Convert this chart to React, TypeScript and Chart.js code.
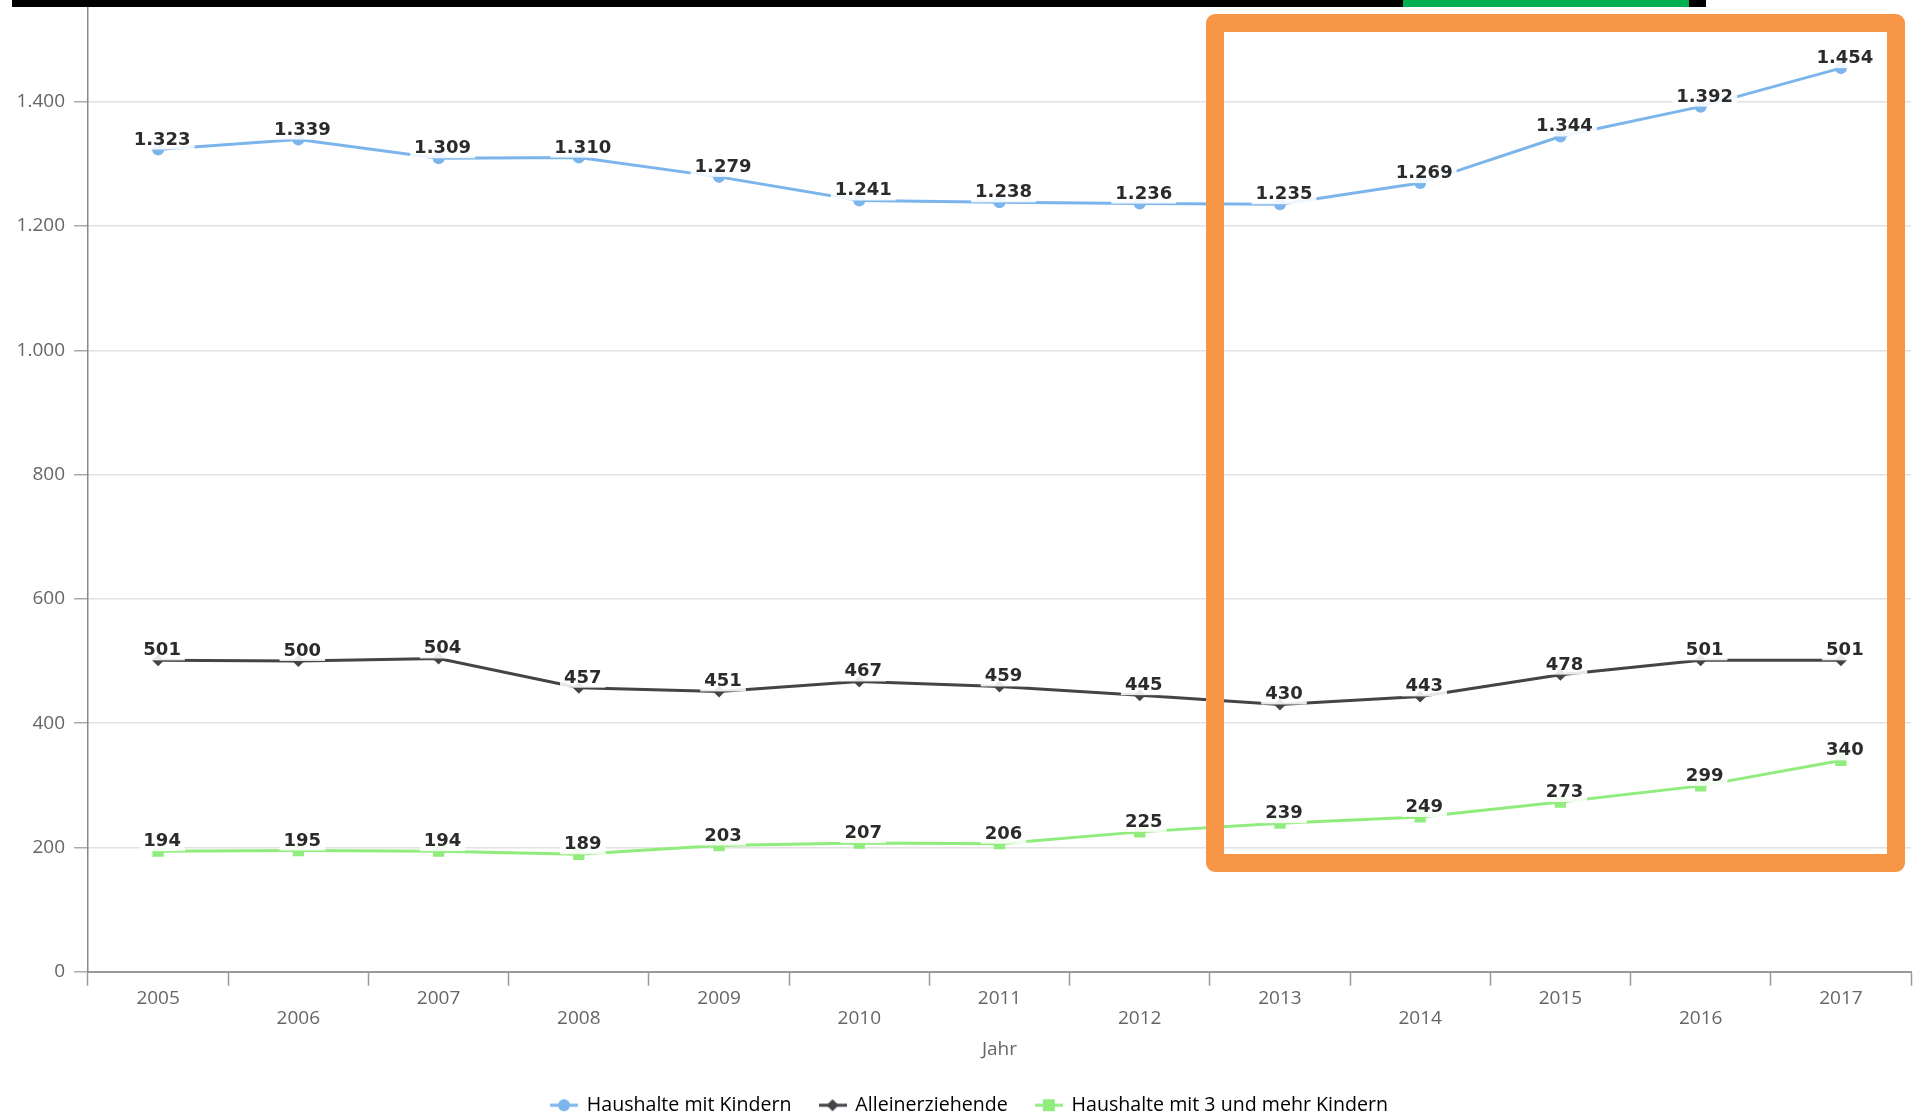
import React, { useEffect, useRef } from 'react';
import { Chart, registerables } from 'chart.js';

Chart.register(...registerables);

const years = ['2005', '2006', '2007', '2008', '2009', '2010', '2011', '2012', '2013', '2014', '2015', '2016', '2017'];
const haushalteMitKindern = [1323, 1339, 1309, 1310, 1279, 1241, 1238, 1236, 1235, 1269, 1344, 1392, 1454];
const alleinerziehende = [501, 500, 504, 457, 451, 467, 459, 445, 430, 443, 478, 501, 501];
const haushalteMit3Kindern = [194, 195, 194, 189, 203, 207, 206, 225, 239, 249, 273, 299, 340];
const seriesNames = ['Haushalte mit Kindern', 'Alleinerziehende', 'Haushalte mit 3 und mehr Kindern'];
const seriesColors = ['#7cb5ec', '#434348', '#90ed7d'];
const axisTitle = 'Jahr';

const fmt = (v: number) => String(Math.round(v)).replace(/\B(?=(\d{3})+(?!\d))/g, '.');

function makeIcon(color: string, shape: string) {
  const c = document.createElement('canvas');
  c.width = 28;
  c.height = 14;
  const g = c.getContext('2d')!;
  g.strokeStyle = color;
  g.lineWidth = 3;
  g.beginPath();
  g.moveTo(0, 7);
  g.lineTo(28, 7);
  g.stroke();
  g.fillStyle = color;
  g.beginPath();
  if (shape === 'circle') g.arc(14, 7, 6, 0, Math.PI * 2);
  else if (shape === 'diamond') {
    g.moveTo(14, 1);
    g.lineTo(20, 7);
    g.lineTo(14, 13);
    g.lineTo(8, 7);
    g.closePath();
  } else g.rect(8, 1, 12, 12);
  g.fill();
  return c;
}

const dataLabelPlugin = {
  id: 'dataLabels',
  afterDatasetsDraw(chart: any) {
    const ctx = chart.ctx;
    ctx.save();
    ctx.font = 'bold 18px "DejaVu Sans"';
    ctx.textAlign = 'center';
    ctx.textBaseline = 'alphabetic';
    chart.data.datasets.forEach((ds: any, i: number) => {
      const meta = chart.getDatasetMeta(i);
      meta.data.forEach((pt: any, j: number) => {
        const txt = fmt(ds.data[j]);
        const x = pt.x + 4;
        const y = pt.y;
        const w = ctx.measureText(txt).width;
        ctx.fillStyle = 'rgba(255,255,255,0.88)';
        ctx.fillRect(x - w / 2 - 4, y - 23, w + 8, 23);
        ctx.fillStyle = '#2b2b2b';
        ctx.fillText(txt, x, y - 5);
      });
    });
    ctx.restore();
  },
};

const legendShiftPlugin = {
  id: 'legendShift',
  afterLayout(chart: any) {
    if (chart.legend) {
      chart.legend.left += 10;
      chart.legend.right += 10;
    }
  },
};

export default function App() {
  const ref = useRef<HTMLCanvasElement | null>(null);

  useEffect(() => {
    if (!ref.current) return;
    const icons = [
      makeIcon(seriesColors[0], 'circle'),
      makeIcon(seriesColors[1], 'diamond'),
      makeIcon(seriesColors[2], 'square'),
    ];
    const tickFont = { family: '"Open Sans", sans-serif', size: 19 };
    const chart = new Chart(ref.current, {
      type: 'line',
      data: {
        labels: years,
        datasets: [
          {
            label: seriesNames[0],
            data: haushalteMitKindern,
            borderColor: seriesColors[0],
            backgroundColor: seriesColors[0],
            borderWidth: 3,
            pointStyle: 'circle',
            pointRadius: 6,
            pointBorderWidth: 0,
            tension: 0,
          },
          {
            label: seriesNames[1],
            data: alleinerziehende,
            borderColor: seriesColors[1],
            backgroundColor: seriesColors[1],
            borderWidth: 3,
            pointStyle: 'rectRot',
            pointRadius: 6,
            pointBorderWidth: 0,
            tension: 0,
          },
          {
            label: seriesNames[2],
            data: haushalteMit3Kindern,
            borderColor: seriesColors[2],
            backgroundColor: seriesColors[2],
            borderWidth: 3,
            pointStyle: 'rect',
            pointRadius: 8,
            pointBorderWidth: 0,
            tension: 0,
          },
        ],
      },
      options: {
        responsive: false,
        animation: false,
        layout: { padding: { left: 8, right: 10, top: 1.2, bottom: 0 } },
        plugins: {
          tooltip: { enabled: false },
          legend: {
            position: 'bottom',
            labels: {
              usePointStyle: true,
              pointStyleWidth: 26,
              padding: 28,
              color: '#333333',
              font: { family: '"Open Sans", sans-serif', size: 19.6 },
              generateLabels: (ch: any) =>
                ch.data.datasets.map((ds: any, i: number) => ({
                  text: ds.label,
                  pointStyle: icons[i],
                  fillStyle: ds.borderColor,
                  strokeStyle: ds.borderColor,
                  lineWidth: 0,
                  hidden: false,
                  datasetIndex: i,
                })),
            },
          },
        },
        scales: {
          x: {
            offset: true,
            grid: { offset: true, drawOnChartArea: false, tickLength: 14, tickColor: '#999999', tickWidth: 1.5 },
            border: { color: '#999999', width: 2 },
            ticks: {
              autoSkip: false,
              maxRotation: 0,
              minRotation: 0,
              padding: 2,
              color: '#666666',
              font: { ...tickFont, lineHeight: 1.1 },
              callback: (_v: any, i: number) => (i % 2 ? ['', years[i]] : years[i]),
            },
            title: {
              display: true,
              text: axisTitle,
              color: '#666666',
              font: { ...tickFont, lineHeight: 1.1 },
              padding: { top: 8, bottom: 7 },
            },
          },
          y: {
            min: 0,
            max: 1600,
            ticks: {
              stepSize: 200,
              padding: 9,
              color: '#666666',
              font: tickFont,
              callback: (v: any) => fmt(Number(v)),
            },
            grid: { color: '#e2e2e2', lineWidth: 1.5, tickLength: 14, tickColor: '#aaaaaa' },
            border: { color: '#888888', width: 1.5 },
            afterFit: (scale: any) => {
              scale.width = 80;
            },
          },
        },
      },
      plugins: [dataLabelPlugin, legendShiftPlugin],
    } as any);
    return () => chart.destroy();
  }, []);

  return (
    <div
      style={{
        position: 'fixed',
        left: 0,
        top: 0,
        width: 1921,
        height: 1113,
        overflow: 'hidden',
        background: '#ffffff',
      }}
    >
      <canvas
        ref={ref}
        width={1921}
        height={1168}
        style={{ position: 'absolute', left: 0, top: -43, width: 1921, height: 1168 }}
      />
      <div style={{ position: 'absolute', left: 12, top: 0, width: 1694, height: 7, background: '#000000' }} />
      <div style={{ position: 'absolute', left: 1403, top: 0, width: 286, height: 7, background: '#00b050' }} />
      <div
        style={{
          position: 'absolute',
          left: 1206,
          top: 14,
          width: 699,
          height: 858,
          boxSizing: 'border-box',
          border: '18px solid #f79646',
          borderRadius: 9,
        }}
      />
    </div>
  );
}
